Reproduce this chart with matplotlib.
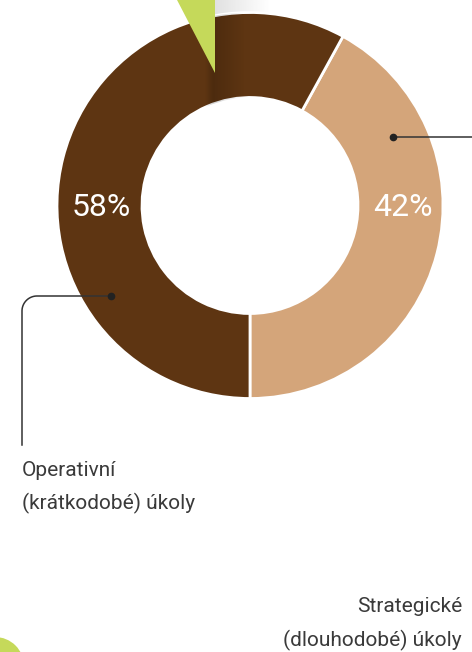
import matplotlib
matplotlib.use("Agg")
import matplotlib.pyplot as plt
import numpy as np
from matplotlib.patches import Polygon, Circle

categories = ["Strategické\n(dlouhodobé) úkoly", "Operativní\n(krátkodobé) úkoly"]
values = [42, 58]
pct_labels = ["42%", "58%"]
colors = ["#d4a57a", "#5e3512"]

W, H = 472, 652
fig = plt.figure(figsize=(W / 100, H / 100), dpi=100)
ax = fig.add_axes([0, 0, 1, 1])

def Y(yp):
    return H - yp

cx, cy = 250, Y(205.5)
R, wid = 193, 85

# gray shadow right of the pointer (behind ring)
grad = np.linspace(0.3, 0.0, 100).reshape(1, -1)
ax.imshow(np.dstack([np.full((1, 100, 3), 0.6), grad]), extent=[214, 270, Y(24), Y(0)],
          aspect="auto", zorder=1, interpolation="bilinear")

wedges, _ = ax.pie(values, colors=colors, startangle=-90, counterclock=True,
                   radius=R, center=(cx, cy), frame=True,
                   wedgeprops=dict(width=wid, edgecolor="white", linewidth=2))
for w in wedges:
    w.set_zorder(2)
ax.set_xlim(0, W)
ax.set_ylim(0, H)
ax.set_aspect("equal")
ax.axis("off")

# soft shadow band on the ring next to pointer
g2 = np.concatenate([np.linspace(0.0, 0.18, 20), np.linspace(0.18, 0.0, 80)]).reshape(1, -1)
im = ax.imshow(np.dstack([np.zeros((1, 100, 3)), g2]), extent=[205, 245, Y(110), Y(0)],
               aspect="auto", zorder=3, interpolation="bilinear")
im.set_clip_path(wedges[1])

# green pointer
ax.add_patch(Polygon([(176, Y(-2)), (215, Y(-2)), (215, Y(73))], closed=True,
                     facecolor="#c5d95a", edgecolor="none", zorder=4))
# green circle bottom-left
ax.add_patch(Circle((-5, Y(666)), 29, facecolor="#c5d95a", edgecolor="none", zorder=4))

# percentage labels
mid_r = R - wid / 2
for w, lab in zip(wedges, pct_labels):
    ang = np.deg2rad((w.theta1 + w.theta2) / 2)
    side = np.sign(np.cos(ang))
    ax.text(cx + side * mid_r + 2, cy - 2, lab,
            ha="center", va="center", color="white", fontsize=23, family="Roboto", zorder=5)

# leader lines
lc = "#333333"
ax.plot([393, W + 2], [Y(137), Y(137)], color=lc, lw=1.1, zorder=6)
ax.plot([393], [Y(137)], "o", color="#222222", ms=4.5, zorder=6)
rr = 15
t = np.linspace(np.pi / 2, np.pi, 20)
arc_x = 22 + rr + rr * np.cos(t)
arc_y = Y(296) - rr + rr * np.sin(t)
xs = np.concatenate([[111], arc_x, [22]])
ys = np.concatenate([[Y(296)], arc_y, [Y(445)]])
ax.plot(xs, ys, color=lc, lw=1.1, zorder=6)
ax.plot([111], [Y(296)], "o", color="#222222", ms=4.5, zorder=6)

tfont = dict(family=["Roboto", "DejaVu Sans"], fontsize=15, color="#3a3a3a")
ax.text(22, Y(470), categories[1].split("\n")[0], ha="left", va="center", zorder=6, **tfont)
ax.text(22, Y(503), categories[1].split("\n")[1], ha="left", va="center", zorder=6, **tfont)
ax.text(462, Y(607), categories[0].split("\n")[0], ha="right", va="center", zorder=6, **tfont)
ax.text(462, Y(640), categories[0].split("\n")[1], ha="right", va="center", zorder=6, **tfont)

fig.savefig("out.png", dpi=100)
